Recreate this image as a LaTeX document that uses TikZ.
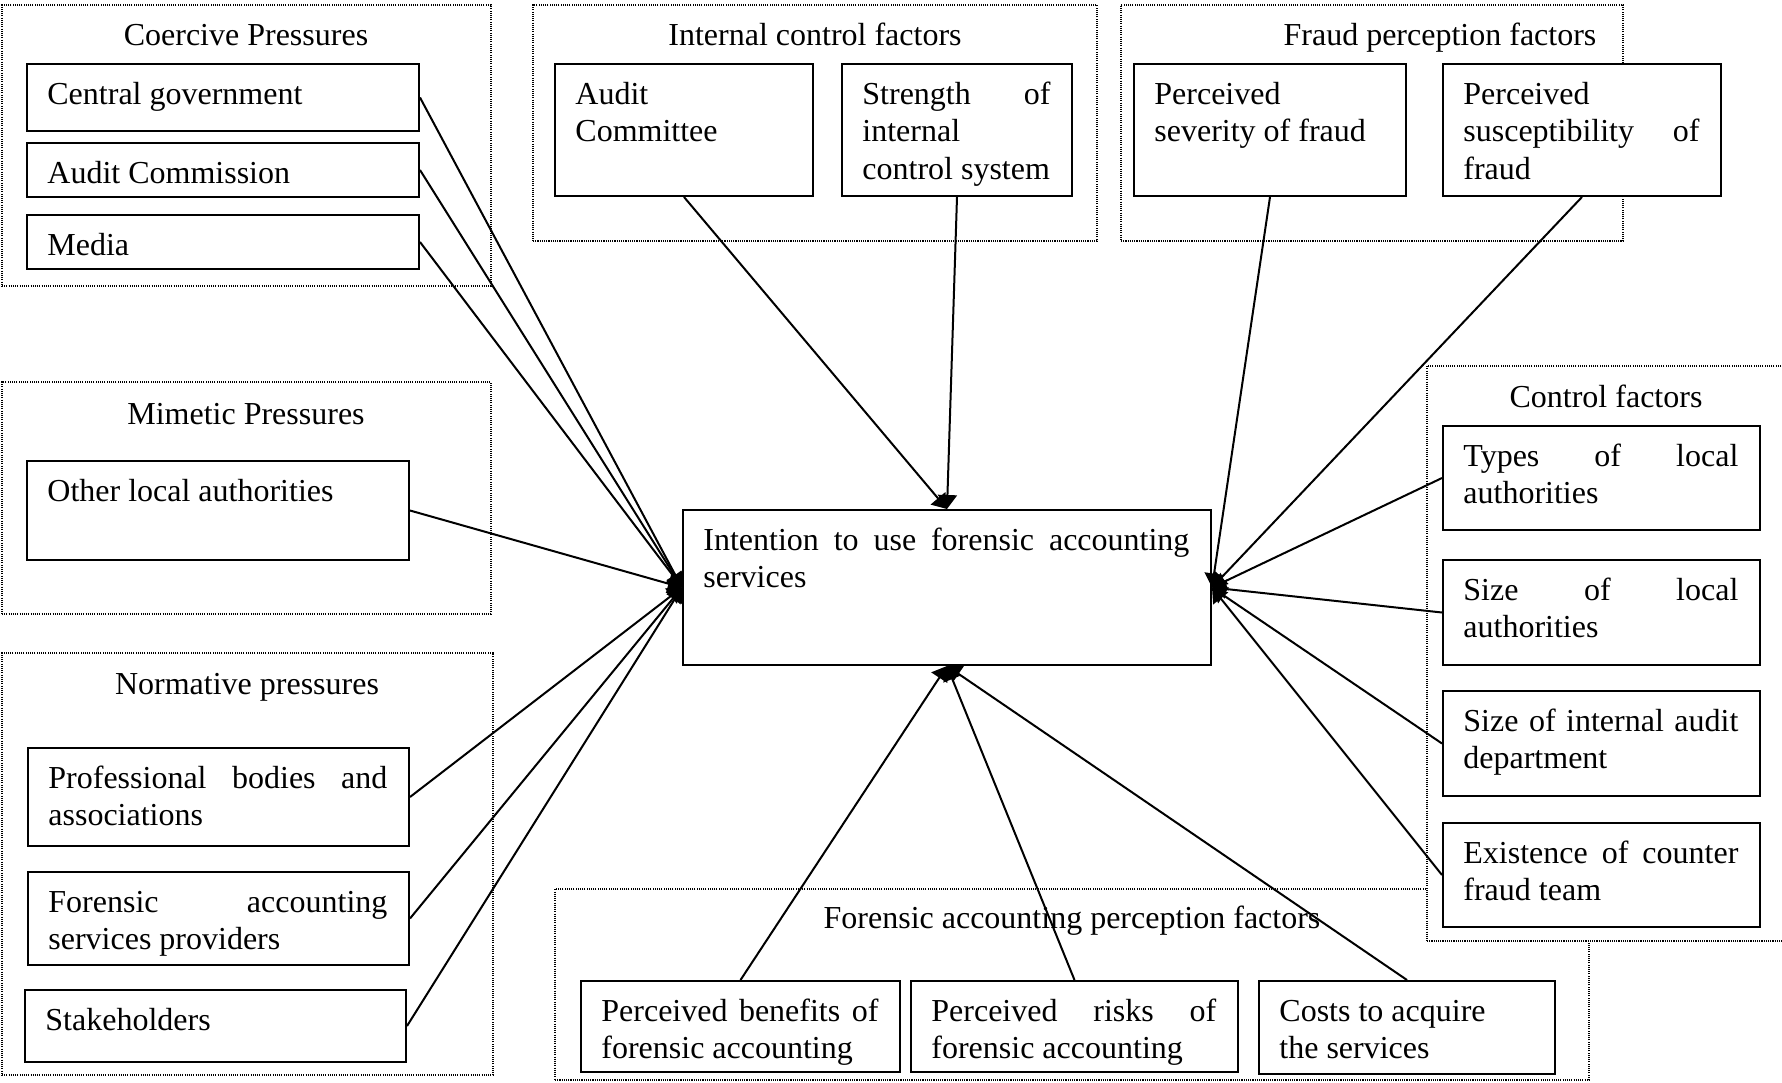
\documentclass[tikz,border=0pt]{standalone}
\usepackage{fontspec}
\setmainfont{Liberation Serif}
\usetikzlibrary{arrows.meta,fit}
% a justified line: spread the words over the text width less a small margin
\newcommand\sprd[1]{\leavevmode\hbox to \dimexpr\hsize-3pt\relax{#1}}
% a factor box (name, x1, y1, x2, y2, text) with its text set from the top left
\newcommand\factornode[6]{%
  \node[factor, fit={(#2,#3) (#4,#5)}] (#1) {};
  \node[body, text width={(#4-#2-36)*0.5pt}] (#1-t) at ([shift={(21,41)}]#1.north west)
    {\spaceskip=0pt\xspaceskip=0pt\relax #6};
}
\begin{document}
\hyphenpenalty=10000
\exhyphenpenalty=10000
\hbadness=10000
\begin{tikzpicture}[x=0.5pt,y=-0.5pt,
  group/.style={draw, line width=0.9pt, dash pattern=on 0.55pt off 0.55pt, fill=white, inner sep=0pt},
  factor/.style={draw, line width=1pt, fill=white, inner sep=0pt},
  body/.style={font=\fontsize{16}{18.75}\selectfont, inner sep=0pt, anchor=base west, align=left},
  heading/.style={font=\fontsize{16}{18.75}\selectfont, inner sep=0pt, anchor=base},
  link/.style={line width=1pt, -{Triangle[length=7pt,width=9.5pt]}},
]
\useasboundingbox (0,0) rectangle (1782,1082);
\clip (0,0) rectangle (1782,1082);

% groups of factors
\node[group, fit={(2,5) (491,286)}] (coerc) {};
\node[group, fit={(2,382) (491,614)}] (mimet) {};
\node[group, fit={(2,653) (493,1075)}] (norm) {};
\node[group, fit={(533,5) (1097,241)}] (intctl) {};
\node[group, fit={(1121,5) (1623,241)}] (fraudp) {};
\node[group, fit={(555,889) (1589,1080)}] (forp) {};
\node[group, fit={(1427,366) (1795,941)}] (ctlf) {};

% group headings
\node[heading] (coerc-h) at (246,45) {Coercive Pressures};
\node[heading] (intctl-h) at (815,45) {Internal control factors};
\node[heading] (fraudp-h) at (1440,45) {Fraud perception factors};
\node[heading] (mimet-h) at (246,424) {Mimetic Pressures};
\node[heading] (norm-h) at (247,694) {Normative pressures};
\node[heading] (ctlf-h) at (1606,407) {Control factors};
\node[heading] (forp-h) at (1072,928) {Forensic accounting perception factors};

% coercive, mimetic and normative pressures
\factornode{cg}{27}{64}{419}{131}{Central government}
\factornode{ac}{27}{143}{419}{197}{Audit Commission}
\factornode{med}{27}{215}{419}{269}{Media}
\factornode{ola}{27}{461}{409}{560}{Other local authorities}
\factornode{pba}{28}{748}{409}{846}{\sprd{Professional bodies and}\\associations}
\factornode{fasp}{28}{872}{409}{965}{\sprd{Forensic accounting}\\services providers}
\factornode{stk}{25}{990}{406}{1062}{Stakeholders}

% internal control and fraud perception factors
\factornode{acm}{555}{64}{813}{196}{Audit\\Committee}
\factornode{sics}{842}{64}{1072}{196}{\sprd{Strength of}\\internal\\control system}
\factornode{psf}{1134}{64}{1406}{196}{Perceived\\severity of fraud}
\factornode{psusc}{1443}{64}{1721}{196}{Perceived\\\sprd{susceptibility of}\\fraud}

% control factors
\factornode{tla}{1443}{426}{1760}{530}{\sprd{Types of local}\\authorities}
\factornode{sla}{1443}{560}{1760}{665}{\sprd{Size of local}\\authorities}
\factornode{sia}{1443}{691}{1760}{796}{\sprd{Size of internal audit}\\department}
\factornode{ecf}{1443}{823}{1760}{927}{\sprd{Existence of counter}\\fraud team}

% forensic accounting perception factors
\factornode{pbf}{581}{981}{900}{1072}{\sprd{Perceived benefits of}\\forensic accounting}
\factornode{prf}{911}{981}{1238}{1072}{\sprd{Perceived risks of}\\forensic accounting}
\factornode{cas}{1259}{981}{1555}{1074}{Costs to acquire\\the services}

% the dependent construct
\factornode{intent}{683}{510}{1211}{665}{\sprd{Intention to use forensic accounting}\\services}

% connectors
\foreach \src in {cg,ac,med,ola,pba,fasp,stk}
  \draw[link] (\src.east) -- (intent.west);
\foreach \src in {acm,sics}
  \draw[link] (\src.south) -- (intent.north);
\foreach \src in {psf,psusc}
  \draw[link] (\src.south) -- (intent.east);
\foreach \src in {tla,sla,sia,ecf}
  \draw[link] (\src.west) -- (intent.east);
\foreach \src in {pbf,prf,cas}
  \draw[link] (\src.north) -- (intent.south);
\end{tikzpicture}
\end{document}
